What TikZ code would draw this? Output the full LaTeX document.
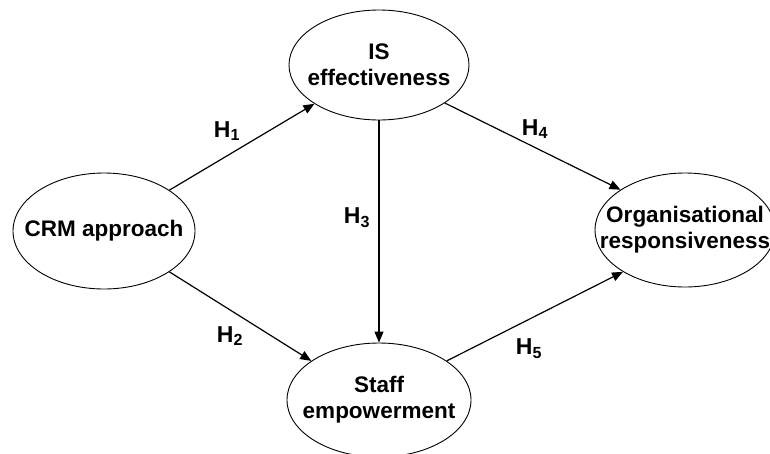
\documentclass[tikz,border=0pt]{standalone}
\usepackage{fontspec}
\setmainfont{Liberation Sans}
\usetikzlibrary{shapes.geometric,arrows.meta}
\begin{document}
\begin{tikzpicture}[x=1pt,y=-1pt,
  var/.style={ellipse,draw,line width=0.9pt,inner sep=0pt},
  txt/.style={align=center,inner sep=0pt,font=\fontsize{22.5}{26}\selectfont\bfseries},
  link/.style={line width=1.2pt,-{Triangle[length=11pt,width=9pt]}},
  hyp/.style={font=\fontsize{23}{24}\selectfont\bfseries,inner sep=0pt}]
\useasboundingbox (0,0) rectangle (770,453);
\node[var,minimum width=182pt,minimum height=116pt,label={[txt]center:CRM approach}] (crm) at (104,231) {};
\node[var,minimum width=180pt,minimum height=110pt,label={[txt]center:IS\\effectiveness}] (is) at (379,65) {};
\node[var,minimum width=180pt,minimum height=114pt,label={[txt]center:Organisational\\responsiveness}] (org) at (685,230) {};
\node[var,minimum width=184pt,minimum height=114pt,label={[txt]center:Staff\\empowerment}] (staff) at (379,400) {};
\draw[link] (crm.32) -- (is.211);
\draw[link] (crm.-32) -- (staff.150);
\draw[link] (is.south) -- (staff.north);
\draw[link] (is.-30) -- (org.148);
\draw[link] (staff.30) -- (org.214);
\node[hyp] (h1) at (227,131) {H\textsubscript{1}};
\node[hyp] (h2) at (230,336) {H\textsubscript{2}};
\node[hyp] (h3) at (357,218) {H\textsubscript{3}};
\node[hyp] (h4) at (535,129) {H\textsubscript{4}};
\node[hyp] (h5) at (529,349) {H\textsubscript{5}};
\end{tikzpicture}
\end{document}
